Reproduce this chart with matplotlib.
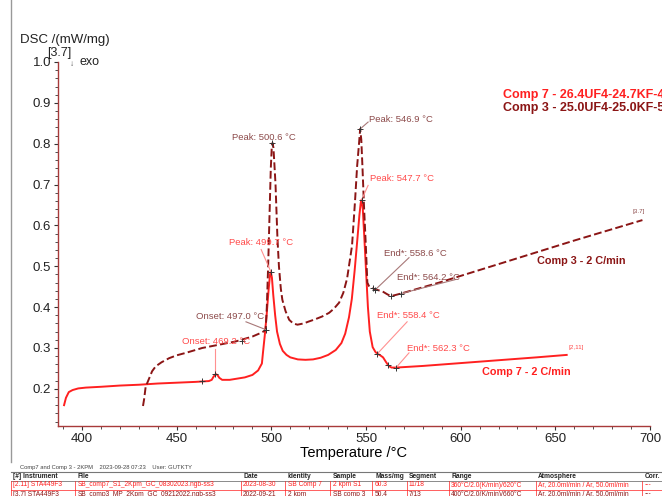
import numpy as np
import matplotlib
matplotlib.use("Agg")
import matplotlib.pyplot as plt
from matplotlib.ticker import MultipleLocator
from matplotlib.lines import Line2D

plt.rcParams['font.family'] = ['Liberation Sans', 'DejaVu Sans']

# Comp 7 (red, solid)
t7 = [390.5, 391.5, 393, 395, 398, 402, 410, 420, 430, 440, 450, 460, 463.4,
      467, 468.5, 469.5, 470.6, 471.5, 472.5, 474, 478, 482, 486, 490, 493,
      495, 495.6, 496.5, 497.5, 498.5, 499.3, 499.7, 500.3, 501, 502, 503,
      504.5, 506, 508, 510, 514, 518, 522, 526, 530, 534, 537, 539, 541,
      542.5, 544, 545.5, 546.5, 547.2, 547.7, 548.3, 549, 550, 551, 552,
      553.5, 555, 556, 557.5, 559, 560.5, 562, 563.5, 565.9, 580, 600, 620,
      640, 656]
dsc7 = [0.160, 0.178, 0.192, 0.197, 0.201, 0.203, 0.205, 0.208, 0.210, 0.213,
        0.215, 0.217, 0.218, 0.219, 0.222, 0.230, 0.236, 0.234, 0.227, 0.222,
        0.222, 0.225, 0.228, 0.234, 0.245, 0.262, 0.290, 0.330, 0.380, 0.440,
        0.480, 0.487, 0.472, 0.430, 0.380, 0.340, 0.310, 0.293, 0.283, 0.277,
        0.272, 0.271, 0.272, 0.276, 0.283, 0.295, 0.312, 0.335, 0.375, 0.420,
        0.490, 0.570, 0.625, 0.655, 0.663, 0.640, 0.580, 0.490, 0.400, 0.340,
        0.302, 0.290, 0.286, 0.282, 0.277, 0.266, 0.256, 0.252, 0.252, 0.256,
        0.263, 0.270, 0.277, 0.283]

# Comp 3 (dark red, dashed)
t3 = [432.2, 432.8, 433.6, 435.4, 437, 438.9, 442, 446, 450, 454.8, 463.5,
      472.4, 481.2, 490, 494, 496.1, 497, 497.6, 498.3, 499, 499.7, 500.2,
      500.6, 501.1, 501.6, 502.2, 503.2, 504, 505, 505.8, 507.5, 509.4,
      511.5, 513.8, 517, 519.9, 523, 526.8, 530.5, 533, 535.8, 538, 540,
      542.6, 544.2, 545.3, 546.3, 546.9, 547.5, 548.1, 549, 549.9, 550.7,
      551.5, 553.2, 555, 558.5, 561, 563, 565, 568.3, 588.6, 630.9, 660, 696]
dsc3 = [0.158, 0.175, 0.205, 0.225, 0.243, 0.255, 0.265, 0.275, 0.282, 0.288,
        0.300, 0.308, 0.316, 0.328, 0.336, 0.341, 0.345, 0.400, 0.500, 0.620,
        0.740, 0.790, 0.802, 0.790, 0.750, 0.700, 0.570, 0.500, 0.445, 0.418,
        0.390, 0.369, 0.360, 0.357, 0.360, 0.365, 0.370, 0.377, 0.386, 0.396,
        0.411, 0.435, 0.470, 0.550, 0.660, 0.745, 0.800, 0.836, 0.810, 0.745,
        0.640, 0.550, 0.460, 0.452, 0.447, 0.443, 0.439, 0.432, 0.427, 0.429,
        0.433, 0.460, 0.521, 0.563, 0.613]

RED = '#ff2020'
DARK = '#8b1515'
RED_TXT = '#ff4a4a'
DARK_TXT = '#8c4a4a'
RED_LEAD = '#ff9090'
DARK_LEAD = '#a87878'

fig = plt.figure(figsize=(6.62, 4.96), dpi=100)
ax = fig.add_axes([58 / 662, 1 - 426 / 496, 592 / 662, 364 / 496])

ax.plot(t7, dsc7, color=RED, lw=1.4)
ax.plot(t3, dsc3, color=DARK, lw=1.4, dashes=(4, 1.7))

ax.set_xlim(387.3, 700)
ax.set_ylim(0.109, 1.0)
ax.xaxis.set_major_locator(MultipleLocator(50))
ax.xaxis.set_minor_locator(MultipleLocator(10))
ax.yaxis.set_major_locator(MultipleLocator(0.1))
ax.yaxis.set_minor_locator(MultipleLocator(0.02))
ax.yaxis.set_major_formatter(plt.FuncFormatter(lambda v, p: '%.1f' % v))
for s in ['top', 'right']:
    ax.spines[s].set_visible(False)
for s in ['left', 'bottom']:
    ax.spines[s].set_color('#a83a3a')
    ax.spines[s].set_linewidth(1.0)
ax.tick_params(which='major', length=3, width=0.8, color='#333333',
               labelsize=9.5, labelcolor='#222222', pad=2)
ax.tick_params(which='minor', length=2, width=0.6, color='#333333')
ax.set_xlabel('Temperature /°C', fontsize=10.5, labelpad=1)

# annotations: (text, text T, text y, lead start T, lead start y, mark T, mark y, color, lead colour)
notes = [
    ('Peak: 500.6 °C', 479.2, 0.816, None, None, 500.6, 0.802, DARK_TXT, DARK_LEAD),
    ('Peak: 499.7 °C', 477.7, 0.558, 494.6, 0.541, 499.7, 0.487, RED_TXT, RED_LEAD),
    ('Onset: 497.0 °C', 460.2, 0.377, 486.6, 0.364, 497.0, 0.345, DARK_TXT, DARK_LEAD),
    ('Onset: 469.2 °C', 452.8, 0.315, 470.4, 0.298, 470.4, 0.236, RED_TXT, RED_LEAD),
    ('Peak: 546.9 °C', 551.6, 0.860, 551.1, 0.853, 546.9, 0.836, DARK_TXT, DARK_LEAD),
    ('Peak: 547.7 °C', 552.1, 0.715, 551.1, 0.698, 547.7, 0.663, RED_TXT, RED_LEAD),
    ('End*: 558.6 °C', 559.5, 0.531, 572.7, 0.521, 555.0, 0.443, DARK_TXT, DARK_LEAD),
    ('End*: 564.2 °C', 566.4, 0.472, 596.9, 0.467, 568.3, 0.433, DARK_TXT, DARK_LEAD),
    ('End*: 558.4 °C', 555.8, 0.379, 571.7, 0.364, 556.0, 0.286, RED_TXT, RED_LEAD),
    ('End*: 562.3 °C', 571.7, 0.298, 572.7, 0.288, 565.9, 0.252, RED_TXT, RED_LEAD),
]
for txt, tx, ty, lx, ly, mx, my, c, lc in notes:
    ax.text(tx, ty, txt, color=c, fontsize=6.8, va='center', ha='left')
    if lx is not None:
        ax.plot([lx, mx], [ly, my], color=lc, lw=0.8)
    ax.plot(mx, my, marker='+', color='#333333', ms=5, mew=0.7)

# extra tangent markers
ax.plot([463.4, 484.7, 553.5, 563.0, 561.5], [0.218, 0.318, 0.446, 0.427, 0.258],
        ls='none', marker='+', color='#333333', ms=5, mew=0.7)

ax.text(663.6, 0.512, 'Comp 3 - 2 C/min', color=DARK, fontsize=7.8,
        fontweight='bold', ha='center', va='center')
ax.text(634.5, 0.242, 'Comp 7 - 2 C/min', color=RED, fontsize=7.8,
        fontweight='bold', ha='center', va='center')
ax.text(691, 0.634, '[3.7]', color='#8c4a4a', fontsize=4.5, ha='left', va='center')
ax.text(657, 0.300, '[2,11]', color='#ff4a4a', fontsize=4.5, ha='left', va='center')

# legend text (clipped at the figure edge)
fig.text(503 / 662, 1 - 95 / 496, 'Comp 7 - 26.4UF4-24.7KF-4', color=RED,
         fontsize=9, fontweight='bold', va='center')
fig.text(503 / 662, 1 - 108 / 496, 'Comp 3 - 25.0UF4-25.0KF-5', color=DARK,
         fontsize=9, fontweight='bold', va='center')

# top-left labels
fig.text(20 / 662, 1 - 40 / 496, 'DSC /(mW/mg)', fontsize=9.5, color='#222222', va='center')
fig.text(47 / 662, 1 - 53 / 496, '[3.7]', fontsize=9, color='#222222', va='center')
fig.text(70 / 662, 1 - 64 / 496, '↓', fontsize=6, color='#555555', va='center')
fig.text(79 / 662, 1 - 62 / 496, 'exo', fontsize=9, color='#222222', va='center')

# page frame
fig.add_artist(Line2D([11 / 662, 11 / 662], [1 - 462 / 496, 1.0], color='#999999', lw=1))

# footer
fig.text(20 / 662, 1 - 467 / 496, 'Comp7 and Comp 3 - 2KPM    2023-09-28 07:23    User: GUTKTY',
         fontsize=4.2, color='#444444', va='center')

# info table
col_x = [13, 78, 243, 288, 333, 375, 409, 451, 538, 645]
sep_x = [11, 75, 241, 285, 330, 372, 407, 449, 536, 642]
headers = ['[#] Instrument', 'File', 'Date', 'Identity', 'Sample', 'Mass/mg',
           'Segment', 'Range', 'Atmosphere', 'Corr.']
row7 = ['[2.11] STA449F3', 'SB_comp7_S1_2Kpm_GC_08302023.ngb-ss3', '2023-08-30',
        'SB Comp 7', '2 kpm S1', '60.3', '11/18', '360°C/2.0(K/min)/620°C',
        'Ar, 20.0ml/min / Ar, 50.0ml/min', '---']
row3 = ['[3.7] STA449F3', 'SB_comp3_MP_2Kpm_GC_09212022.ngb-ss3', '2022-09-21',
        '2 kpm', 'SB comp 3', '50.4', '7/13', '400°C/2.0(K/min)/660°C',
        'Ar, 20.0ml/min / Ar, 50.0ml/min', '---']
row_y = [476, 485, 494]
for vals, yy, c, w in [(headers, row_y[0], '#222222', 'bold'),
                       (row7, row_y[1], RED, 'normal'),
                       (row3, row_y[2], DARK, 'normal')]:
    for x, v in zip(col_x, vals):
        fig.text(x / 662, 1 - yy / 496, v, fontsize=4.8, color=c,
                 fontweight=w, va='center')
fig.add_artist(Line2D([11 / 662, 1.0], [1 - 472 / 496] * 2, color='#777777', lw=0.8))
fig.add_artist(Line2D([11 / 662, 1.0], [1 - 481 / 496] * 2, color='#777777', lw=0.6))
fig.add_artist(Line2D([11 / 662, 1.0], [1 - 490 / 496] * 2, color=RED, lw=0.5))
for x in sep_x:
    fig.add_artist(Line2D([x / 662] * 2, [0, 1 - 481 / 496], color=RED, lw=0.5))

fig.savefig('out.png', dpi=100)
